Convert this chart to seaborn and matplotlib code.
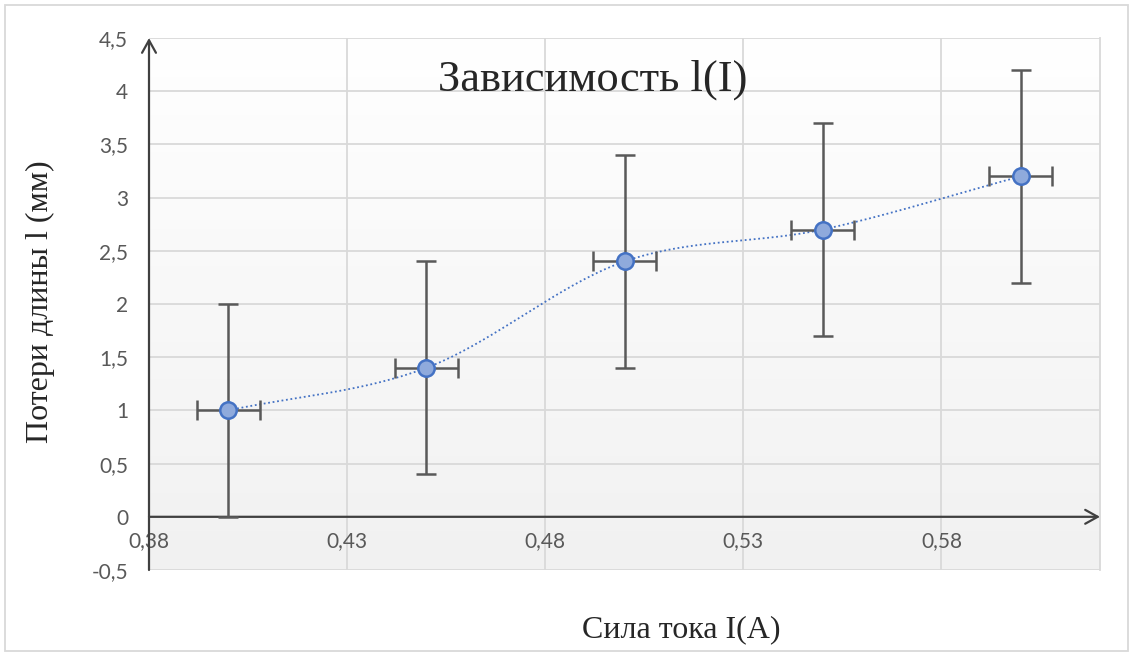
import numpy as np
import pandas as pd
import matplotlib
matplotlib.use("Agg")
import matplotlib.pyplot as plt
import seaborn as sns

# data
current = [0.40, 0.45, 0.50, 0.55, 0.60]
loss = [1.0, 1.4, 2.4, 2.7, 3.2]
x_err = [0.008, 0.008, 0.008, 0.008, 0.008]
y_err = [1.0, 1.0, 1.0, 1.0, 1.0]
x_ticks = [0.38, 0.43, 0.48, 0.53, 0.58]
y_ticks = [-0.5, 0, 0.5, 1, 1.5, 2, 2.5, 3, 3.5, 4, 4.5]

df = pd.DataFrame({"I": current, "l": loss})

sns.set_style("white")
plt.rcParams['font.family'] = ['Lato', 'DejaVu Sans']

fig = plt.figure(figsize=(11.33, 6.56), dpi=100)
ax = fig.add_axes([149/1133, 1-570/656, (1100-149)/1133, (570-38)/656])

# gradient background of the plot area (white on top, light grey at the bottom)
grad = np.linspace(0, 1, 256).reshape(-1, 1)
cmap = matplotlib.colors.LinearSegmentedColormap.from_list("bg", ["#ffffff", "#f1f1f1"])
ax.imshow(grad, extent=(0.38, 0.62, -0.5, 4.5), aspect="auto", cmap=cmap, zorder=0, origin="upper")
ax.set_xlim(0.38, 0.62)
ax.set_ylim(-0.5, 4.5)

ax.set_xticks(x_ticks)
ax.set_yticks(y_ticks)
ax.set_xticklabels([f"{v:.2f}".replace(".", ",") for v in x_ticks])
ax.set_yticklabels([f"{v:g}".replace(".", ",") for v in y_ticks])
ax.grid(True, color="#d9d9d9", lw=1.3, zorder=1)
ax.tick_params(length=0, labelsize=15, colors="#595959")
ax.tick_params(axis="x", pad=10)
ax.tick_params(axis="y", pad=15)

for s in ["top", "left"]:
    ax.spines[s].set_visible(False)
ax.spines["right"].set_color("#d9d9d9")
ax.spines["right"].set_linewidth(1.3)
ax.spines["bottom"].set_position(("data", 0))
ax.spines["bottom"].set_visible(False)

# axes with arrows
arrow = dict(arrowstyle="->,head_length=0.9,head_width=0.5", color="#404040", lw=1.6, shrinkA=0, shrinkB=0)
ax.annotate("", xy=(0.62, 0), xytext=(0.38, 0), arrowprops=arrow, zorder=3, annotation_clip=False)
ax.annotate("", xy=(0.38, 4.5), xytext=(0.38, -0.5), arrowprops=arrow, zorder=3, annotation_clip=False)

# smoothed line (Catmull-Rom through the points, like Excel)
P = np.column_stack([current, loss])
P = np.vstack([P[0] - (P[1] - P[0]), P, P[-1] + (P[-1] - P[-2])])
cx, cy = [], []
t = np.linspace(0, 1, 40)
for i in range(1, len(P) - 2):
    p0, p1, p2, p3 = P[i-1], P[i], P[i+1], P[i+2]
    seg = 0.5 * ((2*p1)[None, :] + np.outer(t, -p0 + p2) + np.outer(t**2, 2*p0 - 5*p1 + 4*p2 - p3)
                 + np.outer(t**3, -p0 + 3*p1 - 3*p2 + p3))
    cx.extend(seg[:, 0])
    cy.extend(seg[:, 1])
curve = pd.DataFrame({"I": cx, "l": cy})
sns.lineplot(data=curve, x="I", y="l", ax=ax, color="#4472c4", lw=1.3, linestyle=(0, (1, 1.5)),
             sort=False, zorder=4)

ax.errorbar(current, loss, xerr=x_err, yerr=y_err, fmt="none", ecolor="#595959",
            elinewidth=1.8, capsize=7, capthick=1.8, zorder=5)
sns.scatterplot(data=df, x="I", y="l", ax=ax, s=140, color="#8faadc", edgecolor="#4472c4",
                linewidth=1.8, zorder=6)
ax.set_xlabel("")
ax.set_ylabel("")

serif = ['Liberation Serif', 'DejaVu Serif']
fig.text(593/1133, 1-80/656, "Зависимость l(I)", family=serif, fontsize=32, ha="center", va="center")
fig.text(40/1133, 1-302/656, "Потери длины l (мм)", family=serif, fontsize=23, rotation=90,
         ha="center", va="center")
fig.text(681/1133, 1-630/656, "Сила тока I(A)", family=serif, fontsize=23, ha="center", va="center")

# outer chart border
fig.add_artist(plt.Rectangle((5/1133, 5/656), 1-10/1133, 1-10/656, transform=fig.transFigure,
                             fill=False, edgecolor="#d9d9d9", lw=1.3))

fig.savefig("out.png", dpi=100)
